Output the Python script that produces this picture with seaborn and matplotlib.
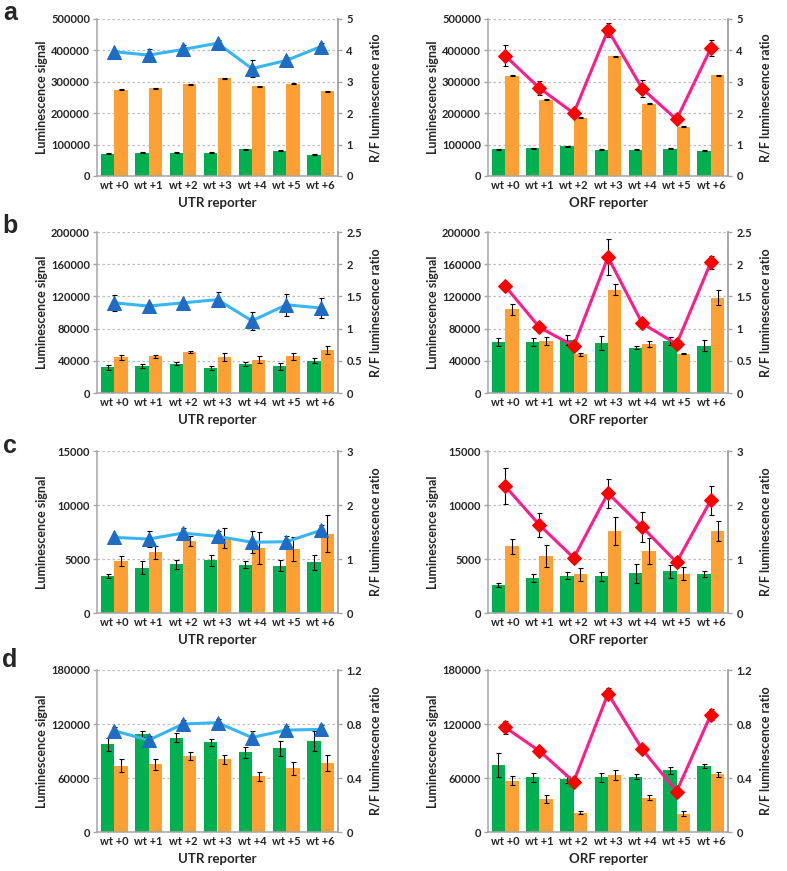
import numpy as np
import pandas as pd
import seaborn as sns
import matplotlib.pyplot as plt

# constructs on the x axis
constructs = ['wt +0', 'wt +1', 'wt +2', 'wt +3', 'wt +4', 'wt +5', 'wt +6']

# ---- panel a ----
a_utr_grn = [71000, 74000, 74000, 74500, 85000, 81000, 67000]
a_utr_grn_err = [1500, 1500, 1500, 1500, 1500, 1500, 1500]
a_utr_org = [275000, 280000, 292000, 312000, 286000, 294000, 270000]
a_utr_org_err = [1500, 1500, 1500, 1500, 1500, 1500, 1500]
a_utr_ratio = [3.96, 3.85, 4.03, 4.23, 3.42, 3.68, 4.12]
a_utr_ratio_err = [0.05, 0.2, 0.15, 0.1, 0.26, 0.12, 0.12]

a_orf_grn = [85000, 88000, 94000, 83000, 84000, 87000, 81000]
a_orf_grn_err = [1500, 1500, 1500, 1500, 1500, 1500, 1500]
a_orf_org = [320000, 243000, 186000, 381000, 230000, 157000, 321000]
a_orf_org_err = [1500, 1500, 1500, 1500, 1500, 1500, 1500]
a_orf_ratio = [3.83, 2.8, 2.0, 4.65, 2.78, 1.8, 4.07]
a_orf_ratio_err = [0.33, 0.22, 0.05, 0.23, 0.27, 0.05, 0.25]

# ---- panel b ----
b_utr_grn = [32000, 34000, 36400, 31000, 36500, 33000, 40200]
b_utr_grn_err = [3000, 2500, 1500, 2000, 2500, 4000, 3000]
b_utr_org = [44300, 45500, 51000, 44700, 41400, 45500, 53800]
b_utr_org_err = [3000, 2000, 1000, 4500, 4000, 4500, 5000]
b_utr_ratio = [1.40, 1.35, 1.40, 1.45, 1.12, 1.37, 1.32]
b_utr_ratio_err = [0.12, 0.03, 0.03, 0.12, 0.14, 0.17, 0.16]

b_orf_grn = [62900, 63800, 66000, 61700, 56300, 64600, 58800]
b_orf_grn_err = [5000, 5000, 6500, 8500, 2000, 5000, 7000]
b_orf_org = [104000, 64600, 48000, 128400, 60900, 48900, 118400]
b_orf_org_err = [6500, 4500, 1500, 7000, 4000, 1000, 9000]
b_orf_ratio = [1.66, 1.02, 0.73, 2.11, 1.08, 0.76, 2.03]
b_orf_ratio_err = [0.02, 0.03, 0.02, 0.28, 0.02, 0.02, 0.1]

# ---- panel c ----
c_utr_grn = [3400, 4170, 4500, 4880, 4480, 4380, 4690]
c_utr_grn_err = [200, 600, 400, 500, 300, 500, 700]
c_utr_org = [4810, 5620, 6670, 6950, 6020, 5900, 7350]
c_utr_org_err = [500, 600, 500, 900, 1500, 1100, 1700]
c_utr_ratio = [1.40, 1.37, 1.48, 1.42, 1.31, 1.32, 1.53]
c_utr_ratio_err = [0.05, 0.15, 0.1, 0.1, 0.2, 0.1, 0.1]

c_orf_grn = [2620, 3240, 3460, 3400, 3670, 3860, 3610]
c_orf_grn_err = [200, 400, 300, 400, 900, 600, 300]
c_orf_org = [6170, 5280, 3580, 7590, 5770, 3640, 7590]
c_orf_org_err = [700, 1000, 600, 1300, 1200, 600, 900]
c_orf_ratio = [2.35, 1.63, 1.02, 2.22, 1.59, 0.94, 2.09]
c_orf_ratio_err = [0.33, 0.22, 0.03, 0.27, 0.28, 0.03, 0.27]

# ---- panel d ----
d_utr_grn = [97400, 108900, 104800, 99600, 88500, 93000, 100700]
d_utr_grn_err = [7000, 3000, 5000, 4000, 6000, 8000, 11000]
d_utr_org = [73700, 75200, 84400, 81100, 62200, 70700, 76700]
d_utr_org_err = [7000, 6000, 4000, 5000, 5000, 7000, 9000]
d_utr_ratio = [0.75, 0.68, 0.80, 0.81, 0.70, 0.755, 0.76]
d_utr_ratio_err = [0.03, 0.03, 0.03, 0.03, 0.05, 0.03, 0.03]

d_orf_grn = [74400, 60700, 58500, 61100, 61500, 68500, 73300]
d_orf_grn_err = [13000, 5000, 4000, 5000, 3000, 4000, 2000]
d_orf_org = [57000, 36700, 21500, 63300, 38100, 20400, 64100]
d_orf_org_err = [5000, 4000, 1500, 6000, 3000, 3000, 3000]
d_orf_ratio = [0.775, 0.60, 0.373, 1.025, 0.612, 0.30, 0.869]
d_orf_ratio_err = [0.05, 0.03, 0.02, 0.04, 0.02, 0.02, 0.04]

GREEN = '#00B050'
ORANGE = '#FFA035'
GRAY = '#A6A6A6'
TICK_FS = 8
LABEL_FS = 9

sns.set_style('white')
plt.rcParams['font.family'] = ['Lato', 'DejaVu Sans']

W, H = 787, 871
fig = plt.figure(figsize=(W / 100, H / 100), dpi=100)


def px_axes(x0, y0, x1, y1):
    return fig.add_axes([x0 / W, 1 - y1 / H, (x1 - x0) / W, (y1 - y0) / H])


def draw_panel(ax, grn, grn_err, org, org_err, ratio, ratio_err,
               ymax, ystep, rmax, rstep, xlabel, utr):
    df = pd.DataFrame({'construct': constructs * 2,
                       'value': grn + org,
                       'channel': ['green'] * 7 + ['orange'] * 7})
    sns.barplot(data=df, x='construct', y='value', hue='channel',
                palette={'green': GREEN, 'orange': ORANGE}, errorbar=None,
                width=0.78, gap=0, saturation=1, legend=False, linewidth=0, ax=ax)
    xs = [p.get_x() + p.get_width() / 2 for p in ax.patches]
    hs = [p.get_height() for p in ax.patches]
    ax.errorbar(xs, hs, yerr=grn_err + org_err, fmt='none', ecolor='black',
                elinewidth=0.8, capsize=1.8, capthick=0.8, zorder=3)

    ax.set_ylim(0, ymax)
    yt = np.arange(0, ymax + ystep / 2, ystep)
    ax.set_yticks(yt)
    ax.set_yticklabels([str(int(round(v))) for v in yt])
    ax.set_axisbelow(True)
    ax.yaxis.grid(True, linestyle=(0, (2, 2)), color='#BFBFBF', linewidth=0.9)
    ax.xaxis.grid(False)
    ax.set_xlabel('')
    ax.set_ylabel('')

    # category separators below the axis
    ax.set_xticks(np.arange(-0.5, 7, 1), minor=True)
    ax.tick_params(axis='x', which='major', length=0, pad=3, labelsize=TICK_FS)
    ax.tick_params(axis='x', which='minor', length=15, color=GRAY, width=1.1)
    ax.tick_params(axis='y', length=3, color=GRAY, width=1, pad=2, labelsize=TICK_FS)
    for lab in ax.get_xticklabels() + ax.get_yticklabels():
        lab.set_fontweight('bold')

    ax.spines['top'].set_visible(False)
    for s in ['left', 'bottom', 'right']:
        ax.spines[s].set_color(GRAY)
        ax.spines[s].set_linewidth(1.1)

    ax2 = ax.twinx()
    if utr:
        lc, mk, mc, ms = '#38B6F2', '^', '#1F6CC4', 9.5
    else:
        lc, mk, mc, ms = '#FF1C8E', 'D', '#FF0000', 7.5
    xi = np.arange(len(constructs))
    ax2.errorbar(xi, ratio, yerr=ratio_err, fmt='none', ecolor='black',
                 elinewidth=0.8, capsize=1.8, capthick=0.8, zorder=1)
    sns.lineplot(x=xi, y=ratio, ax=ax2, color=lc, linewidth=2.2, marker=mk,
                 markersize=ms, markerfacecolor=mc, markeredgecolor=mc, zorder=2)
    ax2.set_ylim(0, rmax)
    rt = np.arange(0, rmax + rstep / 2, rstep)
    ax2.set_yticks(rt)
    ax2.set_yticklabels(['{:g}'.format(round(v, 2)) for v in rt])
    ax2.tick_params(axis='y', length=3, color=GRAY, width=1, pad=3, labelsize=TICK_FS)
    for lab in ax2.get_yticklabels():
        lab.set_fontweight('bold')
    ax2.set_xlabel('')
    ax2.set_ylabel('')
    for s in ['top', 'left', 'bottom']:
        ax2.spines[s].set_visible(False)
    ax2.spines['right'].set_color(GRAY)
    ax2.spines['right'].set_linewidth(1.1)
    ax2.grid(False)
    ax.set_xlim(-0.5, 6.5)

    h = ax.get_position().height * H
    w = ax.get_position().width * W
    ax.text(-55 / w, 0.5, 'Luminescence signal', transform=ax.transAxes,
            rotation=90, ha='center', va='center', fontsize=LABEL_FS, fontweight='bold')
    ax.text(1 + 37 / w, 0.5, 'R/F luminescence ratio', transform=ax.transAxes,
            rotation=90, ha='center', va='center', fontsize=LABEL_FS, fontweight='bold')
    ax.text(0.5, -27 / h, xlabel, transform=ax.transAxes,
            ha='center', va='center', fontsize=LABEL_FS + 0.5, fontweight='bold')


rows = [
    ('a', (19, 176), 13, 500000, 100000, 5, 1,
     (a_utr_grn, a_utr_grn_err, a_utr_org, a_utr_org_err, a_utr_ratio, a_utr_ratio_err),
     (a_orf_grn, a_orf_grn_err, a_orf_org, a_orf_org_err, a_orf_ratio, a_orf_ratio_err)),
    ('b', (232, 393), 226, 200000, 40000, 2.5, 0.5,
     (b_utr_grn, b_utr_grn_err, b_utr_org, b_utr_org_err, b_utr_ratio, b_utr_ratio_err),
     (b_orf_grn, b_orf_grn_err, b_orf_org, b_orf_org_err, b_orf_ratio, b_orf_ratio_err)),
    ('c', (451, 613), 446, 15000, 5000, 3, 1,
     (c_utr_grn, c_utr_grn_err, c_utr_org, c_utr_org_err, c_utr_ratio, c_utr_ratio_err),
     (c_orf_grn, c_orf_grn_err, c_orf_org, c_orf_org_err, c_orf_ratio, c_orf_ratio_err)),
    ('d', (670, 832), 660, 180000, 60000, 1.2, 0.4,
     (d_utr_grn, d_utr_grn_err, d_utr_org, d_utr_org_err, d_utr_ratio, d_utr_ratio_err),
     (d_orf_grn, d_orf_grn_err, d_orf_org, d_orf_org_err, d_orf_ratio, d_orf_ratio_err)),
]

for letter, (y0, y1), ly, ymax, ystep, rmax, rstep, utr_data, orf_data in rows:
    ax_l = px_axes(97, y0, 338, y1)
    draw_panel(ax_l, *utr_data, ymax, ystep, rmax, rstep, 'UTR reporter', True)
    ax_r = px_axes(488, y0, 728, y1)
    draw_panel(ax_r, *orf_data, ymax, ystep, rmax, rstep, 'ORF reporter', False)
    fig.text(10 / W, 1 - ly / H, letter, ha='center', va='center', fontsize=18,
             fontweight='bold', family='Liberation Sans')

fig.savefig('out.png', dpi=100)
